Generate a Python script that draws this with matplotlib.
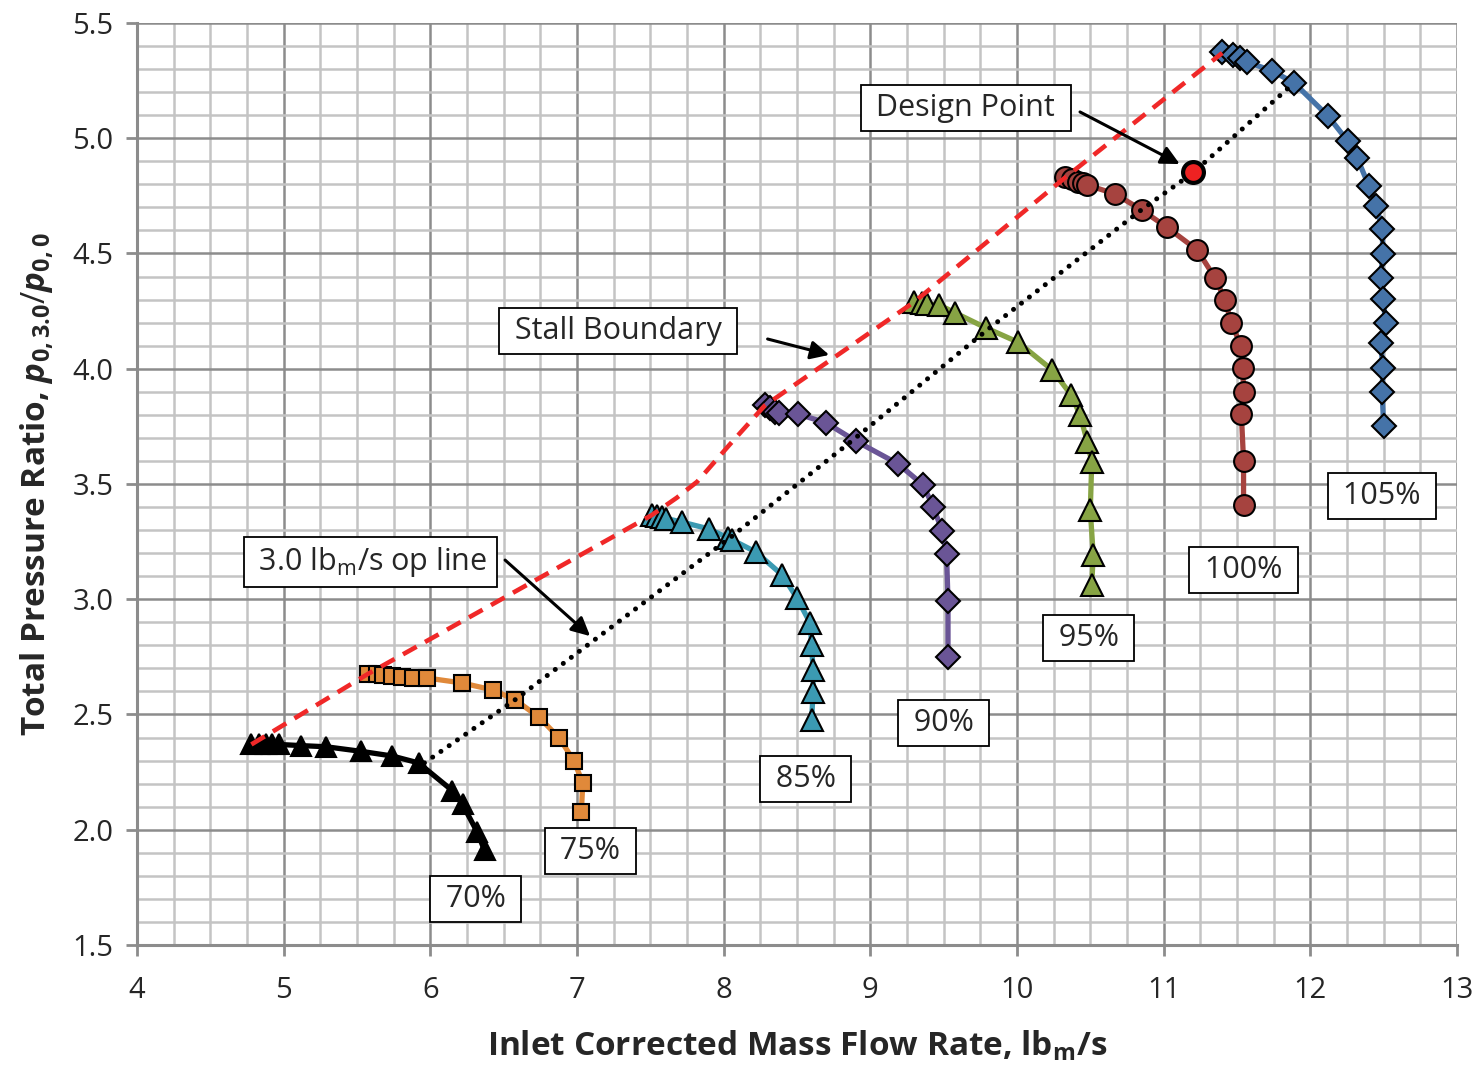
import matplotlib
matplotlib.use("Agg")
import matplotlib.pyplot as plt
from matplotlib.ticker import MultipleLocator

plt.rcParams['font.family'] = ['Open Sans', 'DejaVu Sans']
plt.rcParams['mathtext.fontset'] = 'custom'
plt.rcParams['mathtext.rm'] = 'Open Sans'
plt.rcParams['mathtext.it'] = 'Open Sans:italic'
plt.rcParams['mathtext.bf'] = 'Open Sans:bold'
plt.rcParams['mathtext.bfit'] = 'Open Sans:bold:italic'

# speed lines (corrected mass flow, total pressure ratio)
x70 = [4.78, 4.83, 4.88, 4.92, 4.97, 5.12, 5.29, 5.53, 5.74, 5.92, 6.15, 6.22, 6.32, 6.37]
y70 = [2.37, 2.37, 2.37, 2.37, 2.37, 2.365, 2.36, 2.34, 2.32, 2.29, 2.17, 2.11, 1.99, 1.91]

x75 = [5.575, 5.636, 5.677, 5.74, 5.806, 5.88, 5.98, 6.215, 6.43, 6.58, 6.74, 6.88, 6.98, 7.04, 7.03]
y75 = [2.676, 2.676, 2.671, 2.667, 2.663, 2.66, 2.658, 2.637, 2.606, 2.563, 2.489, 2.398, 2.298, 2.203, 2.077]

x85 = [7.51, 7.545, 7.58, 7.61, 7.715, 7.90, 8.03, 8.06, 8.22, 8.40, 8.50, 8.59, 8.60, 8.61, 8.61, 8.60]
y85 = [3.365, 3.36, 3.357, 3.35, 3.335, 3.305, 3.266, 3.257, 3.205, 3.105, 3.005, 2.897, 2.80, 2.693, 2.598, 2.476]

x90 = [8.28, 8.315, 8.35, 8.38, 8.505, 8.70, 8.90, 9.19, 9.36, 9.43, 9.49, 9.52, 9.53, 9.53]
y90 = [3.843, 3.83, 3.812, 3.808, 3.804, 3.765, 3.687, 3.587, 3.496, 3.40, 3.296, 3.196, 2.992, 2.75]

x95 = [9.30, 9.35, 9.39, 9.47, 9.58, 9.79, 10.005, 10.24, 10.37, 10.43, 10.48, 10.51, 10.50, 10.52, 10.51]
y95 = [4.29, 4.285, 4.281, 4.277, 4.242, 4.177, 4.116, 3.995, 3.886, 3.80, 3.682, 3.595, 3.387, 3.192, 3.062]

x100 = [10.33, 10.375, 10.415, 10.45, 10.48, 10.67, 10.85, 11.02, 11.23, 11.35, 11.42, 11.46,
        11.53, 11.54, 11.545, 11.53, 11.545, 11.545]
y100 = [4.832, 4.823, 4.81, 4.806, 4.797, 4.758, 4.689, 4.615, 4.515, 4.394, 4.298, 4.198,
        4.099, 4.003, 3.899, 3.804, 3.60, 3.409]

x105 = [11.40, 11.47, 11.52, 11.57, 11.74, 11.89, 12.12, 12.255, 12.32, 12.40, 12.45, 12.49,
        12.495, 12.48, 12.495, 12.515, 12.48, 12.495, 12.49, 12.50]
y105 = [5.374, 5.361, 5.348, 5.331, 5.292, 5.24, 5.097, 4.988, 4.914, 4.793, 4.706, 4.606,
        4.498, 4.394, 4.303, 4.198, 4.112, 4.003, 3.899, 3.752]

stall_x = [4.78, 5.575, 7.51, 7.68, 7.82, 8.04, 8.28, 9.30, 10.33, 11.40]
stall_y = [2.37, 2.676, 3.365, 3.44, 3.51, 3.67, 3.84, 4.29, 4.83, 5.37]

op_x = [5.96, 6.57, 8.05, 8.88, 9.80, 10.85, 11.20, 11.89]
op_y = [2.29, 2.56, 3.27, 3.69, 4.17, 4.69, 4.85, 5.24]

design_x, design_y = 11.20, 4.853

speed_labels = ['70%', '75%', '85%', '90%', '95%', '100%', '105%']
label_x = [6.31, 7.09, 8.56, 9.50, 10.49, 11.546, 12.49]
label_y = [1.70, 1.908, 2.22, 2.463, 2.832, 3.127, 3.448]

fig = plt.figure(figsize=(14.82, 10.69), dpi=100)
ax = fig.add_axes([0.0924, 0.116, 0.8907, 0.8625])

ax.set_xlim(4, 13)
ax.set_ylim(1.5, 5.5)
ax.xaxis.set_major_locator(MultipleLocator(1))
ax.xaxis.set_minor_locator(MultipleLocator(0.25))
ax.yaxis.set_major_locator(MultipleLocator(0.5))
ax.yaxis.set_minor_locator(MultipleLocator(0.1))
ax.yaxis.set_major_formatter(plt.FormatStrFormatter('%.1f'))
ax.grid(which='minor', color='#c4c4c4', linewidth=1.8, zorder=0)
ax.grid(which='major', color='#8c8c8c', linewidth=1.8, zorder=0)
ax.set_axisbelow(True)
for side in ['top', 'right']:
    ax.spines[side].set_visible(False)
for side in ['left', 'bottom']:
    ax.spines[side].set_color('#8c8c8c')
    ax.spines[side].set_linewidth(2.2)
ax.tick_params(which='major', length=8, width=2, color='#8c8c8c', labelsize=21, pad=9,
               labelcolor='#262626')
ax.tick_params(axis='x', pad=14)
ax.tick_params(which='minor', length=0)

lw = 3.8
mk = dict(markeredgecolor='black', markeredgewidth=1.5, zorder=3)
ax.plot(x70, y70, color='black', lw=lw, marker='^', ms=15, markerfacecolor='black', **mk)
ax.plot(x75, y75, color='#E0893A', lw=lw, marker='s', ms=12, markerfacecolor='#E0893A', **mk)
ax.plot(x85, y85, color='#3B9AB2', lw=lw, marker='^', ms=16, markerfacecolor='#3B9AB2', **mk)
ax.plot(x90, y90, color='#6A5596', lw=lw, marker='D', ms=12, markerfacecolor='#6A5596', **mk)
ax.plot(x95, y95, color='#87A444', lw=lw, marker='^', ms=16, markerfacecolor='#87A444', **mk)
ax.plot(x100, y100, color='#A6433F', lw=lw, marker='o', ms=15, markerfacecolor='#A6433F', **mk)
ax.plot(x105, y105, color='#4573A8', lw=lw, marker='D', ms=12, markerfacecolor='#4573A8', **mk)

ax.plot(stall_x, stall_y, color='#F02828', lw=3.3, dashes=(3.4, 2.1), zorder=4)
ax.plot(op_x, op_y, color='black', lw=3.6, linestyle=(0, (0.01, 2.0)),
        dash_capstyle='round', zorder=4)
ax.plot(design_x, design_y, marker='o', ms=15, markerfacecolor='#EE2222',
        markeredgecolor='black', markeredgewidth=3, zorder=5)

box = dict(boxstyle='square,pad=0.25', facecolor='white', edgecolor='black', linewidth=1.3)
txt = dict(fontsize=22, ha='center', va='center', color='#262626', bbox=box, zorder=6)
for lab, lx, ly in zip(speed_labels, label_x, label_y):
    ax.text(lx, ly, ' ' + lab + ' ', **txt)

arrow = dict(arrowstyle='-|>', color='black', lw=2.2, mutation_scale=28, shrinkA=0, shrinkB=0)
ax.text(9.65, 5.131, ' Design Point ', **txt)
ax.annotate('', xy=(11.11, 4.888), xytext=(10.43, 5.114), arrowprops=arrow, zorder=6)
ax.text(7.28, 4.164, ' Stall Boundary ', **txt)
ax.annotate('', xy=(8.72, 4.06), xytext=(8.30, 4.129), arrowprops=arrow, zorder=6)
ax.text(5.59, 3.162, r' 3.0 lb$_\mathrm{m}$/s op line ', **txt)
ax.annotate('', xy=(7.09, 2.84), xytext=(6.51, 3.17), arrowprops=arrow, zorder=6)

ax.set_xlabel(r'Inlet Corrected Mass Flow Rate, lb$_\mathbf{m}$/s', fontsize=24,
              fontweight='bold', color='#262626', labelpad=18)
ax.set_ylabel(r'Total Pressure Ratio, $\mathbfit{p}_{\mathbf{0,3.0}}/\mathbfit{p}_{\mathbf{0,0}}$',
              fontsize=24, fontweight='bold', color='#262626', labelpad=12)

fig.savefig('out.png', dpi=100)
